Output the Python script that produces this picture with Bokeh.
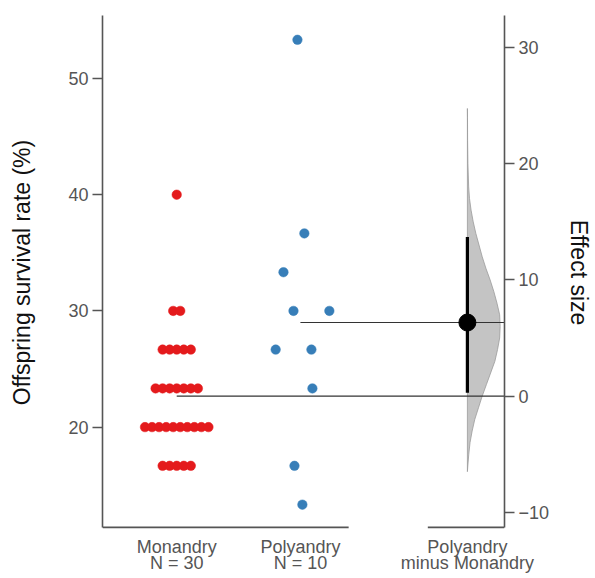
from bokeh.plotting import figure
from bokeh.models import Range1d, LinearAxis, FixedTicker
from bokeh.embed import file_html
from bokeh.resources import INLINE

# ---------------- data ----------------
group_labels = ["Monandry\nN = 30", "Polyandry\nN = 10", "Polyandry\nminus Monandry"]
monandry = [40.0,
            30.0, 30.0,
            26.67, 26.67, 26.67, 26.67, 26.67,
            23.33, 23.33, 23.33, 23.33, 23.33, 23.33, 23.33,
            20.0, 20.0, 20.0, 20.0, 20.0, 20.0, 20.0, 20.0, 20.0, 20.0,
            16.67, 16.67, 16.67, 16.67, 16.67]
polyandry = [53.33, 36.67, 33.33, 30.0, 30.0, 26.67, 26.67, 23.33, 16.67, 13.33]
poly_jitter = [-0.024, 0.032, -0.137, -0.056, 0.234, -0.20, 0.089, 0.097, -0.048, 0.016]
ci = [0.3, 13.7]
kde_effect = [24.75, 24, 22, 20, 18, 17, 16, 15, 14, 13, 12, 11, 10, 9, 8, 7, 6,
              5, 4, 3, 2, 1, 0, -1, -2, -3, -4, -5, -6, -6.5]
kde_density = [0, 0.1, 0.2, 0.5, 1.2, 2, 3.5, 5.5, 8, 11, 14, 17.5, 21.5, 25, 28,
               30.5, 31, 30.5, 28.5, 26, 22, 18, 14, 10.5, 7, 4.5, 2.5, 1.3, 0.4, 0]
left_ticks = [20, 30, 40, 50]
right_ticks = [-10, 0, 10, 20, 30]

# ---------------- derived ----------------
pos = [0.0, 1.0, 2.35]
mono_mean = sum(monandry) / len(monandry)
poly_mean = sum(polyandry) / len(polyandry)
effect = poly_mean - mono_mean

y_lo, y_hi = 11.37, 55.42
x_lo, x_hi = -0.6, 2.65

# beeswarm for monandry
spacing = 0.057
mono_x, mono_y = [], []
for v in sorted(set(monandry), reverse=True):
    n = monandry.count(v)
    for i in range(n):
        mono_x.append(pos[0] + (i - (n - 1) / 2) * spacing)
        mono_y.append(v)
poly_x = [pos[1] + j for j in poly_jitter]

FONT = "Liberation Sans"
AXIS_C = "#555555"
TICK_C = "#555555"

p = figure(width=595, height=578, x_range=Range1d(x_lo, x_hi),
           y_range=Range1d(11.19, y_hi),
           output_backend="svg", toolbar_location=None,
           min_border_left=102, min_border_right=90, min_border_top=15, min_border_bottom=49)
p.extra_y_ranges = {"eff": Range1d(11.19 - mono_mean, y_hi - mono_mean)}
p.outline_line_color = None
p.xgrid.visible = False
p.ygrid.visible = False
p.background_fill_color = "white"
p.border_fill_color = "white"


def style_y(ax):
    ax.axis_label_text_font = FONT
    ax.axis_label_text_font_size = "23px"
    ax.axis_label_text_font_style = "normal"
    ax.axis_label_text_color = "#111111"
    ax.major_label_text_font = FONT
    ax.major_label_text_font_size = "18px"
    ax.major_label_text_color = TICK_C
    ax.major_label_standoff = 4
    ax.axis_line_color = AXIS_C
    ax.axis_line_width = 1.6
    ax.major_tick_line_color = AXIS_C
    ax.major_tick_line_width = 1.4
    ax.major_tick_out = 10
    ax.major_tick_in = 0
    ax.minor_tick_line_color = None


# left axis
ya = p.yaxis[0]
ya.ticker = FixedTicker(ticks=left_ticks)
ya.bounds = (y_lo, y_hi)
ya.axis_label = "Offspring survival rate (%)"
style_y(ya)
ya.axis_label_standoff = 30

# right axis
ra = LinearAxis(y_range_name="eff", ticker=FixedTicker(ticks=right_ticks),
                bounds=(y_lo - mono_mean, y_hi - mono_mean))
ra.axis_label = "Effect size"
style_y(ra)
ra.axis_label_standoff = 14
p.add_layout(ra, "right")

# bottom axis (labels only)
xa = p.xaxis[0]
xa.ticker = FixedTicker(ticks=pos)
xa.major_label_overrides = {pos[i]: group_labels[i] for i in range(3)}
xa.major_label_text_font = FONT
xa.major_label_text_font_size = "18px"
xa.major_label_text_color = TICK_C
xa.major_label_text_line_height = 0.82
xa.major_label_standoff = 7
xa.major_tick_out = 0
xa.major_tick_in = 0
xa.axis_line_color = None
xa.major_tick_line_color = None
xa.minor_tick_line_color = None

# broken bottom axis line
p.segment(x0=[x_lo, pos[2] - 0.32], y0=[y_lo, y_lo], x1=[pos[1] + 0.39, x_hi], y1=[y_lo, y_lo],
          line_color=AXIS_C, line_width=1.6)

# half violin of effect distribution
dmax = max(kde_density)
half_w = 0.265
vx = [pos[2] + d / dmax * half_w for d in kde_density] + [pos[2], pos[2]]
vy = kde_effect + [kde_effect[-1], kde_effect[0]]
p.patch(x=vx, y=vy, y_range_name="eff", fill_color="#c4c4c4", line_color="#9a9a9a",
        line_width=0.8)

# mean reference lines
p.segment(x0=[pos[0], pos[1]], y0=[mono_mean, poly_mean], x1=[x_hi, x_hi],
          y1=[mono_mean, poly_mean], line_color="#333333", line_width=1.1)

# raw data
p.scatter(mono_x, mono_y, size=9.5, fill_color="#e41a1c", line_color="#e41a1c", line_width=0.5)
p.scatter(poly_x, polyandry, size=9.5, fill_color="#377eb8", line_color="#377eb8", line_width=0.5)

# effect size with CI
p.segment(x0=[pos[2]], y0=[ci[0]], x1=[pos[2]], y1=[ci[1]], y_range_name="eff",
          line_color="black", line_width=3.2)
p.scatter([pos[2]], [effect], y_range_name="eff", size=17, fill_color="black", line_color="black")

open("out.html", "w").write(file_html(p, INLINE))
